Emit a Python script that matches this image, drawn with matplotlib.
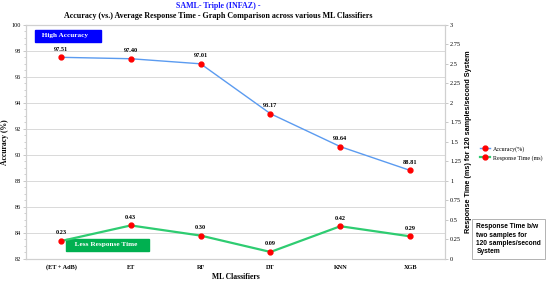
import matplotlib
matplotlib.use("Agg")
import matplotlib.pyplot as plt
from matplotlib.ticker import MultipleLocator

classifiers = ["(ET + AdB)", "ET", "RF", "DT", "KNN", "XGB"]
accuracy = [97.51, 97.40, 97.01, 93.17, 90.64, 88.81]
resp_time = [0.23, 0.43, 0.30, 0.09, 0.42, 0.29]

serif = "Liberation Serif"
sans = "Liberation Sans"

fig = plt.figure(figsize=(5.5, 2.82), dpi=100)
ax = fig.add_axes([0.0473, 0.0816, 0.762, 0.830])
ax2 = ax.twinx()

x = list(range(len(classifiers)))

ax.plot(x, accuracy, color="#5b9bf0", lw=1.0, marker="o", ms=3.5,
        mfc="red", mec="red", zorder=3, label="Accuracy(%)")
ax2.plot(x, resp_time, color="#2ecc71", lw=1.6, marker="o", ms=3.5,
         mfc="red", mec="red", zorder=3, label="Response Time (ms)")

for xi, v in zip(x, accuracy):
    ax.annotate(f"{v:.2f}", (xi, v), xytext=(0, 4), textcoords="offset points",
                ha="center", va="bottom", fontsize=4.5, fontweight="bold", family=serif)
for xi, v in zip(x, resp_time):
    ax2.annotate(f"{v:.2f}", (xi, v), xytext=(0, 4), textcoords="offset points",
                 ha="center", va="bottom", fontsize=4.5, fontweight="bold", family=serif)

ax.set_xlim(-0.5, len(classifiers) - 0.5)
ax.set_ylim(82, 100)
ax.yaxis.set_major_locator(MultipleLocator(2))
ax.yaxis.set_minor_locator(MultipleLocator(0.5))
ax2.set_ylim(0, 3)
ax2.set_yticks([0, 0.25, 0.5, 0.75, 1, 1.25, 1.5, 1.75, 2, 2.25, 2.5, 2.75, 3])
ax2.set_yticklabels(["0", "0.25", "0.5", "0.75", "1", "1.25", "1.5", "1.75", "2",
                     "2.25", "2.5", "2.75", "3"])

ax.set_xticks(x)
ax.set_xticklabels(classifiers)
ax.grid(axis="y", color="#d9d9d9", lw=0.7)
ax.set_axisbelow(True)

for a in (ax, ax2):
    for s in a.spines.values():
        s.set_color("#d0d0d0")
        s.set_linewidth(0.8)
    a.tick_params(colors="#bfbfbf", labelcolor="black", labelsize=4.5, length=2, width=0.6, pad=1.5)
    a.tick_params(which="minor", colors="#bfbfbf", length=1.5, width=0.5)
for lab in ax.get_xticklabels() + ax.get_yticklabels() + ax2.get_yticklabels():
    lab.set_family(serif)
for lab in ax.get_xticklabels():
    lab.set_fontweight("bold")
ax.tick_params(axis="x", length=0, pad=4)

ax.set_xlabel("ML Classifiers", family=serif, fontweight="bold", fontsize=5.5, labelpad=2)
ax.set_ylabel("Accuracy (%)", family=serif, fontweight="bold", fontsize=5.5, labelpad=2)
ax2.set_ylabel("Response Time (ms) for 120 samples/second System", family=sans,
               fontweight="bold", fontsize=5.2, labelpad=3)

fig.text(0.397, 0.978, "SAML- Triple (INFAZ) -", ha="center", va="center", color="#1a1aff",
         family=serif, fontweight="bold", fontsize=5.8)
fig.text(0.397, 0.943, "Accuracy (vs.) Average Response Time - Graph Comparison across various ML Classifiers",
         ha="center", va="center", family=serif, fontweight="bold", fontsize=5.8)

ax.text(0.029, 0.953, "  High Accuracy     ", transform=ax.transAxes, ha="left", va="center",
        color="white", family=serif, fontweight="bold", fontsize=5.2,
        bbox=dict(boxstyle="square,pad=0.5", fc="#0000ff", ec="#0000ff"))
ax.text(0.103, 0.061, "   Less Response Time    ", transform=ax.transAxes, ha="left", va="center",
        color="white", family=serif, fontweight="bold", fontsize=5.2,
        bbox=dict(boxstyle="square,pad=0.5", fc="#00b050", ec="#00b050"))

h1, l1 = ax.get_legend_handles_labels()
h2, l2 = ax2.get_legend_handles_labels()
fig.legend(h1 + h2, l1 + l2, loc="center left", bbox_to_anchor=(0.872, 0.456),
           frameon=False, prop={"family": serif, "size": 4.3}, handlelength=1.8,
           handletextpad=0.4, borderaxespad=0, borderpad=0)

fig.text(0.866, 0.152, "Response Time b/w\ntwo samples for\n120 samples/second\nSystem",
         ha="left", va="center", family=sans, fontweight="bold", fontsize=4.8,
         linespacing=1.25,
         bbox=dict(boxstyle="square,pad=0.6", fc="white", ec="#a6a6a6", lw=0.6))

fig.savefig("out.png", dpi=100)
